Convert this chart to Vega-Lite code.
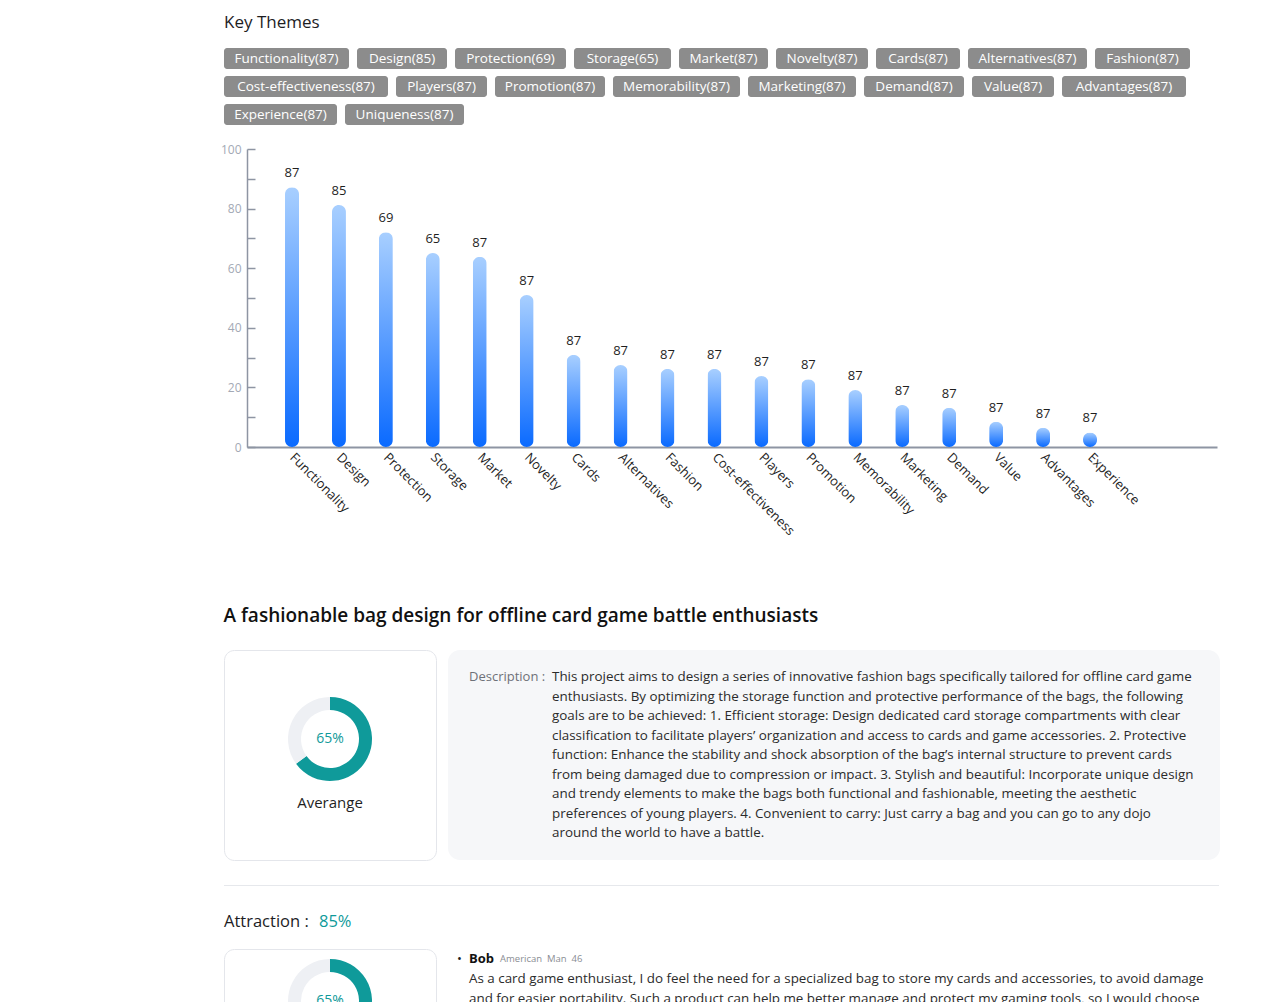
{
  "$schema": "https://vega.github.io/schema/vega-lite/v6.json",
  "background": "#ffffff",
  "padding": {"left": 220, "top": 14, "right": 0, "bottom": 0},
  "config": {
    "font": "Open Sans",
    "view": {"stroke": null},
    "title": {"anchor": "start"}
  },
  "spacing": 68,
  "vconcat": [
    {
      "spacing": 18,
      "vconcat": [
        {
          "title": {"text": "Key Themes", "fontSize": 17, "fontWeight": 500, "color": "#1d1d1f", "anchor": "start", "offset": 16},
          "spacing": 7,
          "vconcat": [
            {
              "spacing": 8,
              "hconcat": [
                {"width": 125, "height": 21, "data": {"values": [{"tag": "Functionality(87)"}]}, "layer": [{"mark": {"type": "rect", "fill": "#8c8c8c", "cornerRadius": 3}, "encoding": {}}, {"mark": {"type": "text", "color": "#ffffff", "fontSize": 13.5}, "encoding": {"text": {"field": "tag"}}}]},
                {"width": 90, "height": 21, "data": {"values": [{"tag": "Design(85)"}]}, "layer": [{"mark": {"type": "rect", "fill": "#8c8c8c", "cornerRadius": 3}, "encoding": {}}, {"mark": {"type": "text", "color": "#ffffff", "fontSize": 13.5}, "encoding": {"text": {"field": "tag"}}}]},
                {"width": 111, "height": 21, "data": {"values": [{"tag": "Protection(69)"}]}, "layer": [{"mark": {"type": "rect", "fill": "#8c8c8c", "cornerRadius": 3}, "encoding": {}}, {"mark": {"type": "text", "color": "#ffffff", "fontSize": 13.5}, "encoding": {"text": {"field": "tag"}}}]},
                {"width": 97, "height": 21, "data": {"values": [{"tag": "Storage(65)"}]}, "layer": [{"mark": {"type": "rect", "fill": "#8c8c8c", "cornerRadius": 3}, "encoding": {}}, {"mark": {"type": "text", "color": "#ffffff", "fontSize": 13.5}, "encoding": {"text": {"field": "tag"}}}]},
                {"width": 89, "height": 21, "data": {"values": [{"tag": "Market(87)"}]}, "layer": [{"mark": {"type": "rect", "fill": "#8c8c8c", "cornerRadius": 3}, "encoding": {}}, {"mark": {"type": "text", "color": "#ffffff", "fontSize": 13.5}, "encoding": {"text": {"field": "tag"}}}]},
                {"width": 92, "height": 21, "data": {"values": [{"tag": "Novelty(87)"}]}, "layer": [{"mark": {"type": "rect", "fill": "#8c8c8c", "cornerRadius": 3}, "encoding": {}}, {"mark": {"type": "text", "color": "#ffffff", "fontSize": 13.5}, "encoding": {"text": {"field": "tag"}}}]},
                {"width": 84, "height": 21, "data": {"values": [{"tag": "Cards(87)"}]}, "layer": [{"mark": {"type": "rect", "fill": "#8c8c8c", "cornerRadius": 3}, "encoding": {}}, {"mark": {"type": "text", "color": "#ffffff", "fontSize": 13.5}, "encoding": {"text": {"field": "tag"}}}]},
                {"width": 119, "height": 21, "data": {"values": [{"tag": "Alternatives(87)"}]}, "layer": [{"mark": {"type": "rect", "fill": "#8c8c8c", "cornerRadius": 3}, "encoding": {}}, {"mark": {"type": "text", "color": "#ffffff", "fontSize": 13.5}, "encoding": {"text": {"field": "tag"}}}]},
                {"width": 95, "height": 21, "data": {"values": [{"tag": "Fashion(87)"}]}, "layer": [{"mark": {"type": "rect", "fill": "#8c8c8c", "cornerRadius": 3}, "encoding": {}}, {"mark": {"type": "text", "color": "#ffffff", "fontSize": 13.5}, "encoding": {"text": {"field": "tag"}}}]}
              ]
            },
            {
              "spacing": 8,
              "hconcat": [
                {"width": 164, "height": 21, "data": {"values": [{"tag": "Cost-effectiveness(87)"}]}, "layer": [{"mark": {"type": "rect", "fill": "#8c8c8c", "cornerRadius": 3}, "encoding": {}}, {"mark": {"type": "text", "color": "#ffffff", "fontSize": 13.5}, "encoding": {"text": {"field": "tag"}}}]},
                {"width": 91, "height": 21, "data": {"values": [{"tag": "Players(87)"}]}, "layer": [{"mark": {"type": "rect", "fill": "#8c8c8c", "cornerRadius": 3}, "encoding": {}}, {"mark": {"type": "text", "color": "#ffffff", "fontSize": 13.5}, "encoding": {"text": {"field": "tag"}}}]},
                {"width": 110, "height": 21, "data": {"values": [{"tag": "Promotion(87)"}]}, "layer": [{"mark": {"type": "rect", "fill": "#8c8c8c", "cornerRadius": 3}, "encoding": {}}, {"mark": {"type": "text", "color": "#ffffff", "fontSize": 13.5}, "encoding": {"text": {"field": "tag"}}}]},
                {"width": 127, "height": 21, "data": {"values": [{"tag": "Memorability(87)"}]}, "layer": [{"mark": {"type": "rect", "fill": "#8c8c8c", "cornerRadius": 3}, "encoding": {}}, {"mark": {"type": "text", "color": "#ffffff", "fontSize": 13.5}, "encoding": {"text": {"field": "tag"}}}]},
                {"width": 108, "height": 21, "data": {"values": [{"tag": "Marketing(87)"}]}, "layer": [{"mark": {"type": "rect", "fill": "#8c8c8c", "cornerRadius": 3}, "encoding": {}}, {"mark": {"type": "text", "color": "#ffffff", "fontSize": 13.5}, "encoding": {"text": {"field": "tag"}}}]},
                {"width": 100, "height": 21, "data": {"values": [{"tag": "Demand(87)"}]}, "layer": [{"mark": {"type": "rect", "fill": "#8c8c8c", "cornerRadius": 3}, "encoding": {}}, {"mark": {"type": "text", "color": "#ffffff", "fontSize": 13.5}, "encoding": {"text": {"field": "tag"}}}]},
                {"width": 82, "height": 21, "data": {"values": [{"tag": "Value(87)"}]}, "layer": [{"mark": {"type": "rect", "fill": "#8c8c8c", "cornerRadius": 3}, "encoding": {}}, {"mark": {"type": "text", "color": "#ffffff", "fontSize": 13.5}, "encoding": {"text": {"field": "tag"}}}]},
                {"width": 124, "height": 21, "data": {"values": [{"tag": "Advantages(87)"}]}, "layer": [{"mark": {"type": "rect", "fill": "#8c8c8c", "cornerRadius": 3}, "encoding": {}}, {"mark": {"type": "text", "color": "#ffffff", "fontSize": 13.5}, "encoding": {"text": {"field": "tag"}}}]}
              ]
            },
            {
              "spacing": 8,
              "hconcat": [
                {"width": 113, "height": 21, "data": {"values": [{"tag": "Experience(87)"}]}, "layer": [{"mark": {"type": "rect", "fill": "#8c8c8c", "cornerRadius": 3}, "encoding": {}}, {"mark": {"type": "text", "color": "#ffffff", "fontSize": 13.5}, "encoding": {"text": {"field": "tag"}}}]},
                {"width": 119, "height": 21, "data": {"values": [{"tag": "Uniqueness(87)"}]}, "layer": [{"mark": {"type": "rect", "fill": "#8c8c8c", "cornerRadius": 3}, "encoding": {}}, {"mark": {"type": "text", "color": "#ffffff", "fontSize": 13.5}, "encoding": {"text": {"field": "tag"}}}]}
              ]
            }
          ]
        },
        {
          "spacing": -5,
          "hconcat": [
            {
              "width": 1, "height": 298,
              "data": {"values": [{}]},
              "mark": {"type": "rect", "opacity": 0},
              "encoding": {}
            },
            {
              "width": 970,
              "height": 298,
              "data": {"values": [
                {"theme": "Functionality", "value": 87.2, "score": 87},
                {"theme": "Design", "value": 81.2, "score": 85},
                {"theme": "Protection", "value": 72.1, "score": 69},
                {"theme": "Storage", "value": 65.1, "score": 65},
                {"theme": "Market", "value": 63.8, "score": 87},
                {"theme": "Novelty", "value": 51.0, "score": 87},
                {"theme": "Cards", "value": 30.9, "score": 87},
                {"theme": "Alternatives", "value": 27.5, "score": 87},
                {"theme": "Fashion", "value": 26.2, "score": 87},
                {"theme": "Cost-effectiveness", "value": 26.2, "score": 87},
                {"theme": "Players", "value": 23.8, "score": 87},
                {"theme": "Promotion", "value": 22.7, "score": 87},
                {"theme": "Memorability", "value": 19.1, "score": 87},
                {"theme": "Marketing", "value": 14.1, "score": 87},
                {"theme": "Demand", "value": 13.2, "score": 87},
                {"theme": "Value", "value": 8.5, "score": 87},
                {"theme": "Advantages", "value": 6.5, "score": 87},
                {"theme": "Experience", "value": 4.9, "score": 87}
              ]},
              "encoding": {
                "x": {
                  "field": "theme", "type": "nominal",
                  "scale": {"domain": ["Functionality", "Design", "Protection", "Storage", "Market", "Novelty", "Cards", "Alternatives", "Fashion", "Cost-effectiveness", "Players", "Promotion", "Memorability", "Marketing", "Demand", "Value", "Advantages", "Experience", "Uniqueness"], "paddingInner": 0, "paddingOuter": 0.832, "align": 0.2757, "round": false},
                  "axis": {"title": null, "ticks": false, "domainColor": "#8e95a3", "domainWidth": 2, "labelAngle": 45, "labelAlign": "left", "labelBaseline": "middle", "labelPadding": 8, "labelColor": "#1f1f1f", "labelFontSize": 13, "labelExpr": "datum.value === 'Uniqueness' ? '' : datum.label"}
                },
                "y": {
                  "field": "value", "type": "quantitative",
                  "scale": {"domain": [0, 100]},
                  "axis": {"title": null, "grid": false, "values": [0, 10, 20, 30, 40, 50, 60, 70, 80, 90, 100], "labelExpr": "datum.value % 20 === 0 ? datum.label : ''", "domainColor": "#8e95a3", "domainWidth": 1.5, "tickColor": "#8e95a3", "tickWidth": 1.5, "tickSize": -8, "labelPadding": 14, "labelColor": "#a3a9b5", "labelFontSize": 12}
                }
              },
              "layer": [
                {
                  "mark": {
                    "type": "bar", "width": 14, "cornerRadius": 7,
                    "fill": {"gradient": "linear", "x1": 0, "y1": 1, "x2": 0, "y2": 0, "stops": [{"offset": 0, "color": "#0a6aff"}, {"offset": 1, "color": "#a8cfff"}]}
                  }
                },
                {
                  "mark": {"type": "text", "baseline": "middle", "dy": -14, "fontSize": 13, "color": "#1f1f1f"},
                  "encoding": {"text": {"field": "score", "type": "quantitative"}}
                }
              ]
            }
          ]
        }
      ]
    },
    {
      "spacing": 24,
      "vconcat": [
        {
          "title": {"text": "A fashionable bag design for offline card game battle enthusiasts", "fontSize": 19, "fontWeight": 600, "color": "#111111", "anchor": "start", "offset": 24},
          "spacing": 11,
          "hconcat": [
            {
              "width": 212, "height": 210,
              "view": {"stroke": "#e4e6eb", "cornerRadius": 10},
              "layer": [
                {
                  "data": {"values": [{"part": "score", "pct": 65}, {"part": "rest", "pct": 35}]},
                  "mark": {"type": "arc", "radius": 42, "radius2": 29, "yOffset": -16},
                  "encoding": {
                    "theta": {"field": "pct", "type": "quantitative", "stack": true},
                    "order": {"field": "pct", "sort": "descending"},
                    "color": {"field": "part", "type": "nominal", "scale": {"domain": ["score", "rest"], "range": ["#0f9a9a", "#eef0f4"]}, "legend": null}
                  }
                },
                {
                  "data": {"values": [{"text": "65%"}]},
                  "mark": {"type": "text", "fontSize": 14, "color": "#0f9a9a", "yOffset": -16},
                  "encoding": {"text": {"field": "text"}}
                },
                {
                  "data": {"values": [{"text": "Averange"}]},
                  "mark": {"type": "text", "fontSize": 15, "color": "#1f1f1f", "yOffset": 48},
                  "encoding": {"text": {"field": "text"}}
                }
              ]
            },
            {
              "width": 772, "height": 210,
              "view": {"fill": "#f6f7f9", "stroke": null, "cornerRadius": 12},
              "data": {"values": [
                {"role": "label", "line": 1, "text": "Description :"},
                {"role": "body", "line": 1, "text": "This project aims to design a series of innovative fashion bags specifically tailored for offline card game"},
                {"role": "body", "line": 2, "text": "enthusiasts. By optimizing the storage function and protective performance of the bags, the following"},
                {"role": "body", "line": 3, "text": "goals are to be achieved: 1. Efficient storage: Design dedicated card storage compartments with clear"},
                {"role": "body", "line": 4, "text": "classification to facilitate players’ organization and access to cards and game accessories. 2. Protective"},
                {"role": "body", "line": 5, "text": "function: Enhance the stability and shock absorption of the bag’s internal structure to prevent cards"},
                {"role": "body", "line": 6, "text": "from being damaged due to compression or impact. 3. Stylish and beautiful: Incorporate unique design"},
                {"role": "body", "line": 7, "text": "and trendy elements to make the bags both functional and fashionable, meeting the aesthetic"},
                {"role": "body", "line": 8, "text": "preferences of young players. 4. Convenient to carry: Just carry a bag and you can go to any dojo"},
                {"role": "body", "line": 9, "text": "around the world to have a battle."}
              ]},
              "encoding": {
                "x": {"field": "role", "type": "nominal", "scale": {"type": "point", "domain": ["label", "body"], "range": [21, 104], "padding": 0}, "axis": null},
                "y": {"field": "line", "type": "ordinal", "scale": {"type": "point", "range": [27, 183], "padding": 0}, "axis": null},
                "text": {"field": "text"}
              },
              "layer": [
                {"transform": [{"filter": "datum.role === 'label'"}], "mark": {"type": "text", "align": "left", "baseline": "middle", "fontSize": 13, "color": "#6e7178"}},
                {"transform": [{"filter": "datum.role === 'body'"}], "mark": {"type": "text", "align": "left", "baseline": "middle", "fontSize": 13.4, "color": "#2b2b2b"}}
              ]
            }
          ]
        },
        {
          "spacing": 0,
          "vconcat": [
            {
              "width": 995, "height": 1,
              "data": {"values": [{}]},
              "mark": {"type": "rect", "fill": "#e6e8ec"},
              "encoding": {}
            },
            {
              "width": 995, "height": 62,
              "data": {"values": [{"part": "label", "text": "Attraction :"}, {"part": "value", "text": "85%"}]},
              "encoding": {
                "x": {"field": "part", "type": "nominal", "scale": {"type": "point", "domain": ["label", "value"], "range": [0, 95], "padding": 0}, "axis": null},
                "text": {"field": "text"}
              },
              "layer": [
                {"transform": [{"filter": "datum.part === 'label'"}], "mark": {"type": "text", "align": "left", "baseline": "middle", "fontSize": 16.5, "fontWeight": 500, "yOffset": 5, "color": "#1d1d1f"}},
                {"transform": [{"filter": "datum.part === 'value'"}], "mark": {"type": "text", "align": "left", "baseline": "middle", "fontSize": 16.5, "fontWeight": 500, "yOffset": 5, "color": "#0f9a9a"}}
              ]
            },
            {
              "spacing": 11,
              "hconcat": [
                {
                  "width": 212, "height": 212,
                  "view": {"stroke": "#e4e6eb", "cornerRadius": 10},
                  "layer": [
                    {
                      "data": {"values": [{"part": "score", "pct": 65}, {"part": "rest", "pct": 35}]},
                      "mark": {"type": "arc", "radius": 42, "radius2": 29, "yOffset": -54},
                      "encoding": {
                        "theta": {"field": "pct", "type": "quantitative", "stack": true},
                        "order": {"field": "pct", "sort": "descending"},
                        "color": {"field": "part", "type": "nominal", "scale": {"domain": ["score", "rest"], "range": ["#0f9a9a", "#eef0f4"]}, "legend": null}
                      }
                    },
                    {
                      "data": {"values": [{"text": "65%"}]},
                      "mark": {"type": "text", "fontSize": 14, "color": "#0f9a9a", "yOffset": -54},
                      "encoding": {"text": {"field": "text"}}
                    }
                  ]
                },
                {
                  "width": 772, "height": 212,
                  "data": {"values": [
                    {"role": "bullet", "line": 0, "kind": "bullet", "text": "•"},
                    {"role": "text", "line": 0, "kind": "name", "text": "Bob"},
                    {"role": "text", "line": 0, "kind": "meta", "text": "American\u00a0\u00a0Man\u00a0\u00a046"},
                    {"role": "text", "line": 1, "kind": "body", "text": "As a card game enthusiast, I do feel the need for a specialized bag to store my cards and accessories, to avoid damage"},
                    {"role": "text", "line": 2, "kind": "body", "text": "and for easier portability. Such a product can help me better manage and protect my gaming tools, so I would choose"}
                  ]},
                  "encoding": {
                    "x": {"field": "role", "type": "nominal", "scale": {"type": "point", "domain": ["bullet", "text"], "range": [9, 21], "padding": 0}, "axis": null},
                    "y": {"field": "line", "type": "ordinal", "scale": {"type": "point", "range": [10, 50], "padding": 0}, "axis": null},
                    "text": {"field": "text"}
                  },
                  "layer": [
                    {"transform": [{"filter": "datum.kind === 'bullet'"}], "mark": {"type": "text", "align": "left", "baseline": "middle", "fontSize": 13, "color": "#1d1d1f"}},
                    {"transform": [{"filter": "datum.kind === 'name'"}], "mark": {"type": "text", "align": "left", "baseline": "middle", "fontSize": 13, "fontWeight": "bold", "color": "#111111"}},
                    {"transform": [{"filter": "datum.kind === 'meta'"}], "mark": {"type": "text", "align": "left", "baseline": "middle", "fontSize": 9.5, "dx": 31, "color": "#8a8d93"}},
                    {"transform": [{"filter": "datum.kind === 'body'"}], "mark": {"type": "text", "align": "left", "baseline": "middle", "fontSize": 13.4, "color": "#2b2b2b"}}
                  ]
                }
              ]
            }
          ]
        }
      ]
    }
  ]
}
